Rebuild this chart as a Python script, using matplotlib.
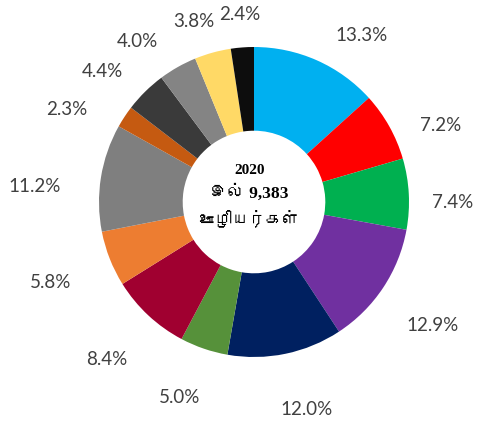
import matplotlib
matplotlib.use("Agg")
import matplotlib.pyplot as plt
import numpy as np
from matplotlib import font_manager
from matplotlib.ft2font import FT2Font

# share of employees per group, clockwise from 12 o'clock
shares = [13.3, 7.2, 7.4, 12.9, 12.0, 5.0, 8.4, 5.8, 11.2, 2.3, 4.4, 4.0, 3.8, 2.4]
labels = [f"{v:.1f}%" for v in shares]
year = "2020"
total_text = "இல் 9,383"
staff_text = "ஊழியர்கள்"

colors = ['#00B0F0', '#FF0000', '#00B050', '#7030A0', '#002060', '#56913A',
          '#A00030', '#ED7D31', '#7F7F7F', '#C55A11', '#3A3A3A', '#848484',
          '#FFD966', '#0D0D0D']

# label placement tweaks (radius factor, angle nudge in degrees)
label_r = [1.28, 1.30, 1.28, 1.40, 1.38, 1.35, 1.39, 1.41, 1.42, 1.35, 1.29, 1.28, 1.23, 1.21]
label_da = [-9, -7, -3, -1, 2.5, -2, 0, 0, 5, 7, 4.5, 6.5, 3, 0]


def tamil_font():
    # look for any installed font that has Tamil glyphs
    for f in font_manager.fontManager.ttflist:
        try:
            if 0x0B87 in FT2Font(f.fname).get_charmap():
                return f.name
        except Exception:
            pass
    return None


tf = tamil_font()
# digits from the serif, Tamil letters fall back to whatever font has them
fam = ['Liberation Serif', tf, 'DejaVu Serif'] if tf else ['Liberation Serif', 'DejaVu Serif']

fig = plt.figure(figsize=(4.79, 4.28), dpi=100)
ax = fig.add_axes([0, 0, 1, 1])
R = 155.0
cx, cy = 254, 202

wedges, _ = ax.pie(shares, colors=colors, startangle=90, counterclock=False,
                   radius=1.0, wedgeprops=dict(width=0.54, linewidth=0))
# pie() resets the limits, so set them afterwards
ax.set_xlim(-cx / R, (479 - cx) / R)
ax.set_ylim(-(428 - cy) / R, cy / R)
ax.axis('off')

for w, lab, rf, da in zip(wedges, labels, label_r, label_da):
    mid = np.deg2rad((w.theta1 + w.theta2) / 2 + da)
    ax.text(rf * np.cos(mid), rf * np.sin(mid), lab, ha='center', va='center',
            fontsize=13.5, family='Lato', color='#404040')

ax.text(-0.03, 0.205, year, ha='center', va='center', fontsize=11,
        fontweight='bold', family=['Liberation Serif', 'DejaVu Serif'])
ax.text(-0.03, 0.055, total_text, ha='center', va='center', fontsize=12.5,
        fontweight='bold', family=fam)
ax.text(-0.03, -0.115, staff_text, ha='center', va='center', fontsize=12,
        fontweight='bold', family=fam)

fig.savefig("out.png", dpi=100)
